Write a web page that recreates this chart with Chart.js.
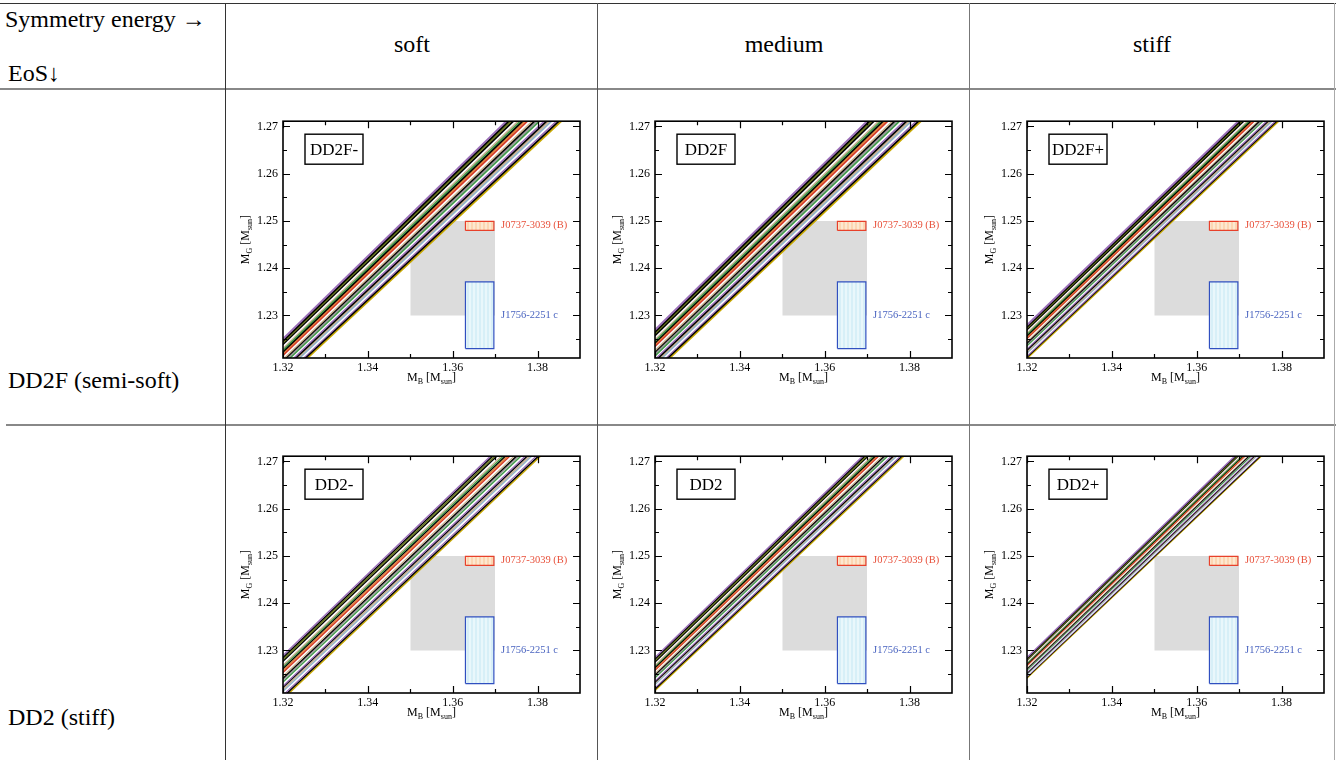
<!DOCTYPE html>
<html>
<head>
<meta charset="utf-8">
<script src="https://cdn.jsdelivr.net/npm/chart.js@4.4.0/dist/chart.umd.min.js"></script>
<style>
  body { margin: 0; width: 1339px; height: 760px; background: #fff; position: relative; overflow: hidden;
         font-family: "Liberation Serif", "DejaVu Serif", serif; color: #000; }
  .rule { position: absolute; }
  .txt { position: absolute; font-size: 24px; white-space: nowrap; line-height: 1; }
  canvas { position: absolute; }
</style>
</head>
<body>
<div class="rule" style="left:0;top:3px;width:1336px;height:1px;background:#333"></div>
<div class="rule" style="left:0;top:88px;width:1336px;height:2px;background:#888"></div>
<div class="rule" style="left:6px;top:424px;width:1330px;height:2px;background:#888"></div>
<div class="rule" style="left:225px;top:3px;width:1px;height:757px;background:#333"></div>
<div class="rule" style="left:597px;top:3px;width:1px;height:757px;background:#555"></div>
<div class="rule" style="left:969px;top:3px;width:1px;height:757px;background:#777"></div>
<div class="rule" style="left:1334px;top:3px;width:1px;height:757px;background:#aaa"></div>

<div class="txt" style="left:5px;top:7px">Symmetry energy →</div>
<div class="txt" style="left:8px;top:61px">EoS↓</div>
<div class="txt" style="left:412px;top:32px;transform:translateX(-50%)">soft</div>
<div class="txt" style="left:784px;top:32px;transform:translateX(-50%)">medium</div>
<div class="txt" style="left:1152px;top:32px;transform:translateX(-50%)">stiff</div>
<div class="txt" style="left:8px;top:368px">DD2F (semi-soft)</div>
<div class="txt" style="left:8px;top:705px">DD2 (stiff)</div>

<script>
// axis ticks
const xTicks = [1.32, 1.34, 1.36, 1.38];
const xMinor = [1.33, 1.35, 1.37];
const yTicks = [1.23, 1.24, 1.25, 1.26, 1.27];
const yMinor = [1.225, 1.235, 1.245, 1.255, 1.265];

const panelNames = ['DD2F-', 'DD2F', 'DD2F+', 'DD2-', 'DD2', 'DD2+'];

// colours of the curves in each band, top to bottom
const lineColors = ['#9b6fb8', '#000000', '#6b7a1a', '#000000', '#ffffff', '#c8b090', '#3f9a4a', '#000000',
                    '#e8803a', '#d23a2a', '#ffffff', '#c8b090', '#000000', '#9a9a9a', '#3f9a4a', '#ffffff',
                    '#9b6fb8', '#000000', '#c8b090', '#8fb4cc', '#ffffff', '#9b6fb8', '#000000', '#c8a800'];

// every curve runs from M_B = 1.31 to M_B = 1.39; values are M_G at those ends
const curveX = [1.31, 1.39];

const dd2fMinusLo = [1.2163, 1.2159, 1.2156, 1.2152, 1.2148, 1.2145, 1.2141, 1.2137, 1.2134, 1.2130, 1.2126, 1.2122, 1.2119, 1.2115, 1.2111, 1.2108, 1.2104, 1.2100, 1.2097, 1.2093, 1.2089, 1.2086, 1.2082, 1.2078];
const dd2fMinusHi = [1.2863, 1.2858, 1.2853, 1.2848, 1.2843, 1.2838, 1.2833, 1.2828, 1.2823, 1.2818, 1.2813, 1.2808, 1.2803, 1.2798, 1.2793, 1.2788, 1.2783, 1.2778, 1.2773, 1.2768, 1.2763, 1.2758, 1.2753, 1.2748];

const dd2fLo = [1.2181, 1.2177, 1.2174, 1.2170, 1.2166, 1.2163, 1.2159, 1.2155, 1.2152, 1.2148, 1.2144, 1.2140, 1.2137, 1.2133, 1.2129, 1.2126, 1.2122, 1.2118, 1.2115, 1.2111, 1.2107, 1.2104, 1.2100, 1.2096];
const dd2fHi = [1.2888, 1.2883, 1.2878, 1.2873, 1.2868, 1.2863, 1.2858, 1.2853, 1.2848, 1.2843, 1.2838, 1.2833, 1.2828, 1.2823, 1.2818, 1.2813, 1.2808, 1.2803, 1.2798, 1.2793, 1.2788, 1.2783, 1.2778, 1.2773];

const dd2fPlusLo = [1.2193, 1.2190, 1.2187, 1.2184, 1.2181, 1.2178, 1.2175, 1.2172, 1.2169, 1.2166, 1.2163, 1.2160, 1.2157, 1.2154, 1.2151, 1.2148, 1.2145, 1.2142, 1.2139, 1.2136, 1.2133, 1.2130, 1.2128, 1.2125];
const dd2fPlusHi = [1.2886, 1.2882, 1.2879, 1.2875, 1.2871, 1.2868, 1.2864, 1.2860, 1.2857, 1.2853, 1.2849, 1.2846, 1.2842, 1.2838, 1.2835, 1.2831, 1.2827, 1.2824, 1.2820, 1.2816, 1.2813, 1.2809, 1.2806, 1.2802];

const dd2MinusLo = [1.2203, 1.2199, 1.2195, 1.2191, 1.2187, 1.2183, 1.2180, 1.2176, 1.2172, 1.2168, 1.2164, 1.2160, 1.2156, 1.2152, 1.2148, 1.2144, 1.2140, 1.2137, 1.2133, 1.2129, 1.2125, 1.2121, 1.2117, 1.2113];
const dd2MinusHi = [1.2893, 1.2889, 1.2884, 1.2880, 1.2875, 1.2871, 1.2866, 1.2862, 1.2857, 1.2853, 1.2848, 1.2844, 1.2839, 1.2835, 1.2830, 1.2826, 1.2821, 1.2817, 1.2812, 1.2808, 1.2803, 1.2799, 1.2794, 1.2790];

const dd2Lo = [1.2198, 1.2195, 1.2192, 1.2189, 1.2186, 1.2183, 1.2181, 1.2178, 1.2175, 1.2172, 1.2169, 1.2166, 1.2163, 1.2160, 1.2157, 1.2154, 1.2151, 1.2148, 1.2146, 1.2143, 1.2140, 1.2137, 1.2134, 1.2131];
const dd2Hi = [1.2894, 1.2890, 1.2886, 1.2883, 1.2879, 1.2875, 1.2871, 1.2867, 1.2864, 1.2860, 1.2856, 1.2852, 1.2848, 1.2845, 1.2841, 1.2837, 1.2833, 1.2829, 1.2826, 1.2822, 1.2818, 1.2814, 1.2811, 1.2807];

const dd2PlusLo = [1.2198, 1.2196, 1.2194, 1.2193, 1.2191, 1.2189, 1.2187, 1.2185, 1.2184, 1.2182, 1.2180, 1.2178, 1.2176, 1.2175, 1.2173, 1.2171, 1.2169, 1.2167, 1.2166, 1.2164, 1.2162, 1.2160, 1.2159, 1.2157];
const dd2PlusHi = [1.2894, 1.2892, 1.2889, 1.2887, 1.2884, 1.2882, 1.2879, 1.2877, 1.2874, 1.2872, 1.2869, 1.2867, 1.2864, 1.2862, 1.2859, 1.2857, 1.2854, 1.2852, 1.2849, 1.2847, 1.2844, 1.2842, 1.2839, 1.2837];

// constraint boxes: [x0, x1], [y0, y1]
const grayBoxX = [1.35, 1.37];
const grayBoxY = [1.23, 1.25];
const j0737X = [1.363, 1.3697];
const j0737Y = [1.248, 1.2499];
const j1756X = [1.363, 1.3697];
const j1756Y = [1.223, 1.2371];

const bands = [
  [dd2fMinusLo, dd2fMinusHi], [dd2fLo, dd2fHi], [dd2fPlusLo, dd2fPlusHi],
  [dd2MinusLo, dd2MinusHi], [dd2Lo, dd2Hi], [dd2PlusLo, dd2PlusHi]
];

const SERIF = '"Liberation Serif", "DejaVu Serif", serif';

function stripes(c1, c2) {
  const p = document.createElement('canvas');
  p.width = 4; p.height = 2;
  const g = p.getContext('2d');
  g.fillStyle = c1; g.fillRect(0, 0, 2, 2);
  g.fillStyle = c2; g.fillRect(2, 0, 2, 2);
  return g.createPattern(p, 'repeat');
}

function rectFill(xs, ys, bg, order) {
  return {
    data: [{ x: xs[0], y: ys[1] }, { x: xs[1], y: ys[1] }],
    fill: { value: ys[0] }, backgroundColor: bg, borderWidth: 0,
    pointRadius: 0, order: order, clip: 0
  };
}
function rectEdge(xs, ys, color, order) {
  return {
    data: [{ x: xs[0], y: ys[0] }, { x: xs[1], y: ys[0] }, { x: xs[1], y: ys[1] }, { x: xs[0], y: ys[1] }, { x: xs[0], y: ys[0] }],
    fill: false, borderColor: color, borderWidth: 1.2, pointRadius: 0, order: order, clip: 0
  };
}

function drawParts(ctx, parts, cx, cy) {
  let w = 0;
  parts.forEach(p => { ctx.font = p[1] + 'px ' + SERIF; w += ctx.measureText(p[0]).width; });
  let x = cx - w / 2;
  ctx.textBaseline = 'alphabetic';
  ctx.textAlign = 'left';
  parts.forEach(p => {
    ctx.font = p[1] + 'px ' + SERIF;
    ctx.fillText(p[0], x, cy + p[2]);
    x += ctx.measureText(p[0]).width;
  });
}

const decor = {
  id: 'decor',
  afterDatasetsDraw(chart) {
    const ctx = chart.ctx, a = chart.chartArea;
    const xs = chart.scales.x, ys = chart.scales.y;
    ctx.save();
    ctx.strokeStyle = '#000';
    ctx.lineWidth = 1.2;
    ctx.beginPath();
    const tick = (list, len) => {
      list.forEach(v => {
        const px = Math.round(xs.getPixelForValue(v)) + 0.5;
        ctx.moveTo(px, a.bottom); ctx.lineTo(px, a.bottom - len);
        ctx.moveTo(px, a.top); ctx.lineTo(px, a.top + len);
      });
    };
    const ytick = (list, len) => {
      list.forEach(v => {
        const py = Math.round(ys.getPixelForValue(v)) + 0.5;
        ctx.moveTo(a.left, py); ctx.lineTo(a.left + len, py);
        ctx.moveTo(a.right, py); ctx.lineTo(a.right - len, py);
      });
    };
    tick(xTicks, 7); tick(xMinor, 4);
    ytick(yTicks, 7); ytick(yMinor, 4);
    ctx.stroke();
    ctx.lineWidth = 1.6;
    ctx.strokeRect(a.left, a.top, a.right - a.left, a.bottom - a.top);

    // panel name box
    const name = chart.options.plugins.decor.name;
    ctx.fillStyle = '#fff';
    ctx.fillRect(a.left + 22, a.top + 13, 58, 30);
    ctx.lineWidth = 1.4;
    ctx.strokeRect(a.left + 22, a.top + 13, 58, 30);
    ctx.fillStyle = '#000';
    ctx.font = '17px ' + SERIF;
    ctx.textAlign = 'center';
    ctx.textBaseline = 'middle';
    ctx.fillText(name, a.left + 51, a.top + 29);

    // pulsar labels
    ctx.textAlign = 'left';
    ctx.font = '10.5px ' + SERIF;
    ctx.fillStyle = '#e8503a';
    ctx.fillText('J0737-3039 (B)', xs.getPixelForValue(1.3714), ys.getPixelForValue(1.249));
    ctx.fillStyle = '#4a64c0';
    ctx.fillText('J1756-2251 c', xs.getPixelForValue(1.3714), ys.getPixelForValue(1.23));

    // axis titles
    ctx.fillStyle = '#000';
    drawParts(ctx, [['M', 12, 0], ['B', 8, 3], [' [M', 12, 0], ['sun', 8, 3], [']', 12, 0]],
      (a.left + a.right) / 2, a.bottom + 23);
    ctx.translate(a.left - 38, (a.top + a.bottom) / 2);
    ctx.rotate(-Math.PI / 2);
    drawParts(ctx, [['M', 12, 0], ['G', 8, 3], [' [M', 12, 0], ['sun', 8, 3], [']', 12, 0]], 0, 4);
    ctx.restore();
  }
};

const colLeft = [283, 655, 1027];
const rowTop = [119, 454];
const PADL = 60, PADT = 10, PADR = 15, PADB = 40, AW = 297, AH = 239;

bands.forEach((band, k) => {
  const col = k % 3, row = Math.floor(k / 3);
  const cv = document.createElement('canvas');
  cv.width = PADL + AW + PADR;
  cv.height = PADT + AH + PADB;
  cv.style.left = (colLeft[col] - PADL) + 'px';
  cv.style.top = (rowTop[row] - PADT) + 'px';
  document.body.appendChild(cv);

  const lw = row === 0 ? 1.9 : 1.5;
  const curves = band[0].map((lo, i) => ({
    data: [{ x: curveX[0], y: lo }, { x: curveX[1], y: band[1][i] }],
    borderColor: lineColors[i], borderWidth: lw, pointRadius: 0, fill: false, order: 50, clip: 0
  }));

  const datasets = [
    rectEdge(j0737X, j0737Y, '#e8402a', 1),
    rectEdge(j1756X, j1756Y, '#3050c0', 1),
    rectFill(j0737X, j0737Y, stripes('#fcd6b2', '#fde8d0'), 2),
    rectFill(j1756X, j1756Y, stripes('#d7eff7', '#e9f7fb'), 2),
    ...curves,
    rectFill(grayBoxX, grayBoxY, '#dcdcdc', 100)
  ];

  new Chart(cv.getContext('2d'), {
    type: 'line',
    data: { datasets },
    options: {
      responsive: false,
      animation: false,
      devicePixelRatio: 1,
      layout: { padding: { top: PADT, right: PADR, left: 0, bottom: 0 } },
      plugins: { legend: { display: false }, tooltip: { enabled: false }, decor: { name: panelNames[k] } },
      scales: {
        x: {
          type: 'linear', min: 1.32, max: 1.39,
          afterBuildTicks: s => { s.ticks = xTicks.map(v => ({ value: v })); },
          afterFit: s => { s.height = PADB; },
          ticks: { callback: v => v.toFixed(2), font: { family: SERIF, size: 12 }, color: '#000', padding: 3, maxRotation: 0, autoSkip: false },
          grid: { display: false, drawTicks: false }, border: { display: false }
        },
        y: {
          type: 'linear', min: 1.221, max: 1.2711,
          afterBuildTicks: s => { s.ticks = yTicks.map(v => ({ value: v })); },
          afterFit: s => { s.width = PADL; },
          ticks: { callback: v => v.toFixed(2), font: { family: SERIF, size: 12 }, color: '#000', padding: 5, autoSkip: false },
          grid: { display: false, drawTicks: false }, border: { display: false }
        }
      }
    },
    plugins: [decor]
  });
});
</script>
</body>
</html>
